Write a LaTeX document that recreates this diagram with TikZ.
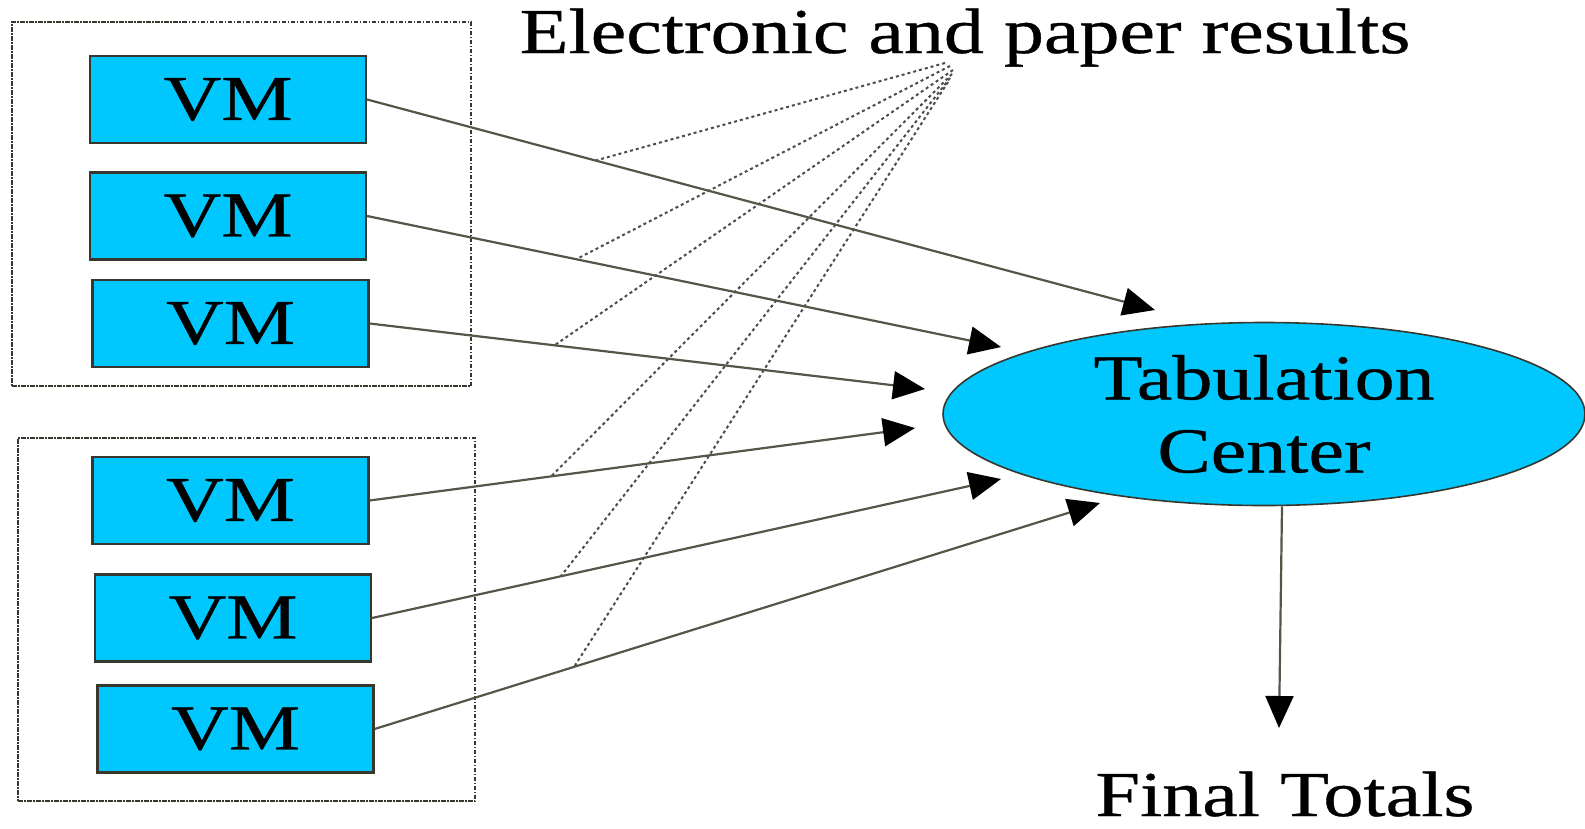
\documentclass[tikz,border=0pt]{standalone}
\usepackage{fontspec}
\setmainfont{Liberation Serif}[FakeStretch=1.25,FakeBold=0.6]
\usetikzlibrary{shapes.geometric,arrows.meta}
\definecolor{vmfill}{RGB}{0,200,255}
\definecolor{edgecol}{RGB}{85,85,72}
\definecolor{boxline}{RGB}{55,55,45}
\begin{document}
\begin{tikzpicture}[x=1pt,y=-1pt,
  lbl/.style={font=\fontsize{64}{73}\selectfont, inner sep=0pt},
  vmbox/.style={lbl, draw=boxline, line width=2.2pt, fill=vmfill, minimum width=276pt, minimum height=87pt},
  group/.style={draw=boxline, line width=2pt, dash pattern=on 4.5pt off 1.5pt on 1.5pt off 1.5pt, inner sep=0pt},
  flow/.style={draw=edgecol, line width=2.2pt, -{Triangle[length=32pt,width=28pt,color=black]}},
  dotln/.style={draw=black!70, line width=2pt, dash pattern=on 3pt off 3pt},
  tabshape/.style={lbl, ellipse, draw=boxline, line width=1.6pt, fill=vmfill, minimum width=642pt, minimum height=183pt, align=center}]
\useasboundingbox (0,0) rectangle (1585,828);

% groups
\node[group, minimum width=459pt, minimum height=364pt] (g1) at (241.5,204) {};
\node[group, minimum width=457pt, minimum height=363pt] (g2) at (246.5,619.5) {};

% VM boxes
\node[vmbox] (vm1) at (228,99.5) {VM};
\node[vmbox] (vm2) at (228,216) {VM};
\node[vmbox] (vm3) at (230.5,323.5) {VM};
\node[vmbox] (vm4) at (230.5,500.5) {VM};
\node[vmbox] (vm5) at (233,618) {VM};
\node[vmbox] (vm6) at (235.5,729) {VM};

% tabulation center and labels
\node[tabshape] (tab) at (1264,414) {Tabulation\\Center};
\node[lbl, anchor=base] (title) at (965,53) {Electronic and paper results};
\node[lbl, anchor=base] (final) at (1285,816) {Final Totals};

% arrow tips
\coordinate (t1) at (1155,310);
\coordinate (t2) at (1001,347);
\coordinate (t3) at (925,389);
\coordinate (t4) at (915,428);
\coordinate (t5) at (1001,479);
\coordinate (t6) at (1100,503);
\coordinate (t7) at (1279,728);

% dotted line sources
\coordinate (s1) at (945,63);
\coordinate (s2) at (950,66);
\coordinate (s3) at (953,70);
\coordinate (s4) at (952,74);
\coordinate (s5) at (950,78);
\coordinate (s6) at (948,82);

% points on the arrows where the dotted lines end
\path (vm1.east) -- coordinate[pos=0.29] (d1) (t1);
\path (vm2.east) -- coordinate[pos=0.33] (d2) (t2);
\path (vm3.east) -- coordinate[pos=0.333] (d3) (t3);
\path (vm4.east) -- coordinate[pos=0.333] (d4) (t4);
\path (vm5.east) -- coordinate[pos=0.30] (d5) (t5);
\path (vm6.east) -- coordinate[pos=0.275] (d6) (t6);

\foreach \i in {1,...,6} {\draw[dotln] (s\i) -- (d\i);}

\draw[flow] (vm1.east) -- (t1);
\draw[flow] (vm2.east) -- (t2);
\draw[flow] (vm3.east) -- (t3);
\draw[flow] (vm4.east) -- (t4);
\draw[flow] (vm5.east) -- (t5);
\draw[flow] (vm6.east) -- (t6);
\draw[flow] ([xshift=18pt]tab.south) -- (t7);
\end{tikzpicture}
\end{document}
